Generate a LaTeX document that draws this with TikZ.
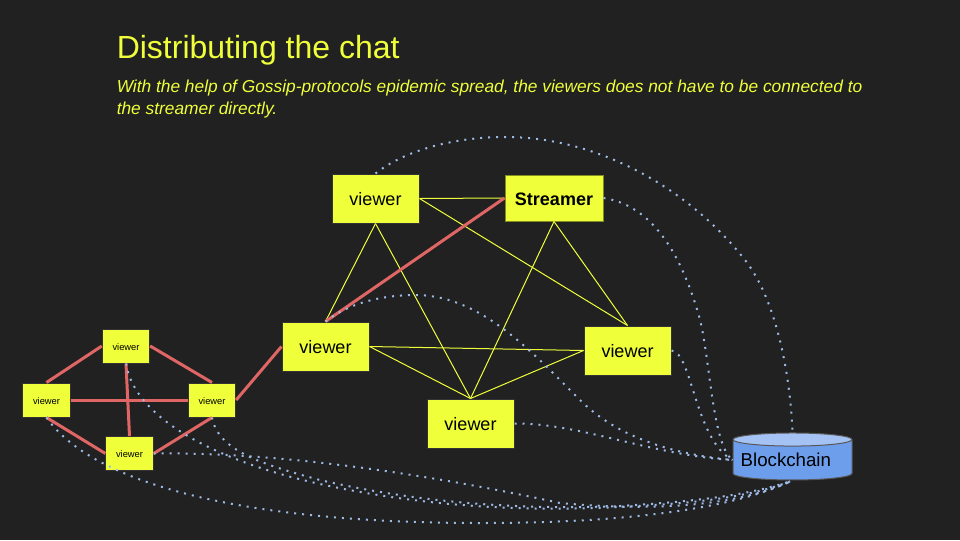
\documentclass[tikz,border=0pt]{standalone}
\usepackage{fontspec}
\setmainfont{Liberation Sans}
\usetikzlibrary{shapes.geometric}
\definecolor{slidebg}{HTML}{212121}
\definecolor{chatyellow}{HTML}{EFFF3A}
\definecolor{gossipred}{HTML}{E06666}
\definecolor{chainblue}{HTML}{6D9EEB}
\definecolor{chainlight}{HTML}{A4C2F4}
\definecolor{paylink}{HTML}{9DB9E6}

\begin{document}
\begin{tikzpicture}[
    x=0.75pt, y=-0.75pt,
    font=\fontsize{13.5}{16}\selectfont,
    viewer/.style={draw=slidebg!92!white, fill=chatyellow, text=black, line width=0.75pt,
                   inner sep=0pt, minimum width=65.25pt, minimum height=36.75pt,
                   text height=11.2pt, text depth=0pt},
    streamer/.style={viewer, draw=chatyellow!55!black, minimum width=73.5pt, minimum height=34.5pt,
                     text height=10.8pt, font=\fontsize{13.5}{16}\selectfont\bfseries},
    peer/.style={viewer, minimum width=35.5pt, minimum height=25.5pt,
                 text height=6pt, font=\fontsize{7}{8}\selectfont},
    chain/.style={shape=cylinder, shape border rotate=90, aspect=0.17, draw=slidebg!75!white,
                  cylinder uses custom fill, cylinder body fill=chainblue, cylinder end fill=chainlight,
                  inner sep=0pt, minimum width=89.25pt, minimum height=35.25pt, line width=0.75pt},
    heading/.style={anchor=west, inner sep=0pt, text=chatyellow},
    gossip/.style={draw=gossipred, line width=2.25pt},
    link/.style={draw=chatyellow, line width=0.75pt},
    paid/.style={draw=paylink, line width=1.5pt, dash pattern=on 1.5pt off 4.5pt},
  ]
  \fill[slidebg] (0,0) rectangle (960,540);
  \useasboundingbox (0,0) rectangle (960,540);
  \node[heading, font=\fontsize{24}{28}\selectfont] (title) at (116.5,50) {Distributing the chat};
  \node[heading, align=left, font=\fontsize{13}{16}\selectfont\itshape] (subtitle) at (116.5,99)
    {With the help of Gossip-protocols epidemic spread, the viewers does not have to be connected to\\
     the streamer directly.};

  % main swarm
  \node[viewer] (vtop) at (375.5,198.5) {viewer};
  \node[streamer] (stream) at (554,198) {Streamer};
  \node[viewer] (vleft) at (325.5,346.5) {viewer};
  \node[viewer] (vright) at (627.5,350.5) {viewer};
  \node[viewer] (vbot) at (470.5,423.5) {viewer};

  % small swarm
  \node[peer] (ptop) at (126,346) {viewer};
  \node[peer] (pleft) at (46.5,400) {viewer};
  \node[peer] (pright) at (212,400) {viewer};
  \node[peer] (pbot) at (129.5,453.5) {viewer};

  \node[chain, font=\fontsize{14}{16}\selectfont] (ledger) at (792.5,460) {\hspace*{-10pt}Blockchain};

  \foreach \a/\b in {vtop.east/stream.west, vtop.east/vright.north, vtop.south/vleft.north,
                     vtop.south/vbot.north, stream.south/vright.north, stream.south/vbot.north,
                     vleft.east/vright.west, vleft.east/vbot.north, vright.west/vbot.north}
    \draw[link] (\a) -- (\b);

  \foreach \a/\b in {ptop.west/pleft.north, ptop.east/pright.north, pleft.east/pright.west,
                     ptop.south/pbot.north, pleft.south/pbot.west, pright.south/pbot.east,
                     pright.east/vleft.west, stream.west/vleft.north}
    \draw[gossip] (\a) -- (\b);

  % dotted links to the chain
  \draw[paid] (vtop.north) .. controls (405,150) and (455,137) .. (505,137)
    .. controls (600,137) and (690,190) .. (745,260)
    .. controls (775,298) and (790,370) .. (ledger.north);
  \draw[paid] (stream.east) .. controls (650,205) and (680,250) .. (699,316)
    .. controls (710,355) and (712,445) .. (ledger.west);
  \draw[paid] (vright.east) .. controls (692,352) and (695,440) .. (ledger.west);
  \draw[paid] (vleft.north) .. controls (350,302) and (385,295) .. (415,295)
    .. controls (480,295) and (530,350) .. (580,400)
    .. controls (620,440) and (680,455) .. (ledger.west);
  \draw[paid] (vbot.east) .. controls (580,423) and (650,455) .. (ledger.west);
  \draw[paid] (pleft.south) .. controls (90,480) and (230,523) .. (480,523)
    .. controls (620,523) and (730,510) .. (ledger.south);
  \draw[paid] (pbot.east) .. controls (260,452) and (400,468) .. (560,503)
    .. controls (660,512) and (740,505) .. (ledger.south);
  \draw[paid] (ptop.south) .. controls (135,420) and (220,462) .. (320,484)
    .. controls (420,506) and (520,512) .. (620,507)
    .. controls (700,503) and (750,497) .. (ledger.south);
  \draw[paid] (pright.south) .. controls (218,450) and (260,464) .. (320,480)
    .. controls (420,503) and (520,510) .. (620,506)
    .. controls (700,501) and (750,495) .. (ledger.south);
\end{tikzpicture}
\end{document}
